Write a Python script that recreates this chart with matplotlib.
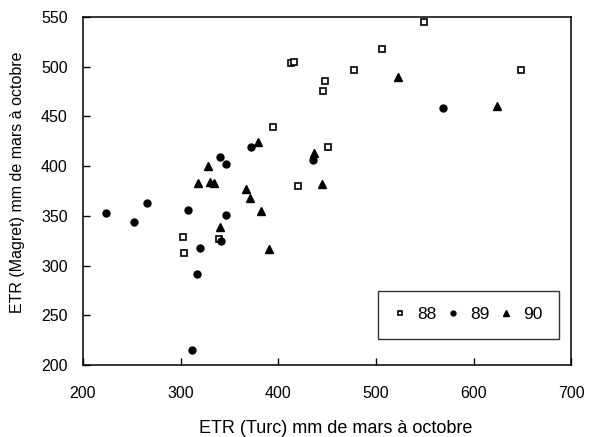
import matplotlib
matplotlib.use("Agg")
import matplotlib.pyplot as plt

plt.rcParams['font.family'] = ['Liberation Sans', 'DejaVu Sans']

# annee 88 (carres ouverts)
x88 = [302.8, 303.5, 339, 394.3, 412.8, 415.8, 420.6, 446.2, 448, 450.7,
       477.7, 506.4, 549.4, 648.8]
y88 = [329, 312.4, 326.8, 439, 503.5, 505.1, 380.4, 476, 486, 419.6,
       496.5, 517.6, 545.1, 496.5]

# annee 89 (ronds pleins)
x89 = [223.6, 252.3, 265.2, 307.9, 311.4, 317.1, 320.2, 340.7, 341.4,
       346.2, 346.5, 371.8, 435.7, 568.5]
y89 = [353.2, 344.2, 362.7, 356.2, 215.4, 291.9, 317.4, 409.5, 324.4,
       351.2, 402.5, 419.3, 406.2, 458.8]

# annee 90 (triangles pleins)
x90 = [318.1, 328, 330.1, 334.2, 340.4, 367.3, 371.1, 379.6, 382.4,
       390.2, 437, 445.2, 522.4, 623.7]
y90 = [382.8, 400.5, 384.4, 382.8, 339.2, 376.5, 368.2, 424, 354.8,
       316.4, 413, 382.1, 490, 460.9]

fig = plt.figure(figsize=(5.92, 4.37), dpi=100)
ax = fig.add_axes([0.140, 0.165, 0.825, 0.796])

ax.plot(x88, y88, 's', ms=4.8, mfc='white', mec='black', mew=1.2, label='88')
ax.plot(x89, y89, 'o', ms=5, color='black', label='89')
ax.plot(x90, y90, '^', ms=5.5, color='black', label='90')

ax.set_xlim(200, 700)
ax.set_ylim(200, 550)
ax.set_xticks(range(200, 701, 100))
ax.set_yticks(range(200, 551, 50))
ax.tick_params(direction='in', length=5, width=1, labelsize=11.5)
ax.tick_params(axis='x', pad=15)
ax.tick_params(axis='y', pad=11)
for s in ax.spines.values():
    s.set_linewidth(1.1)

ax.set_xlabel('ETR (Turc) mm de mars à octobre', fontsize=13)
ax.xaxis.set_label_coords(0.518, -0.158)
ax.set_ylabel('ETR (Magret) mm de mars à octobre', fontsize=11.5)
ax.yaxis.set_label_coords(-0.119, 0.526)

leg = ax.legend(loc='lower right', ncol=3, bbox_to_anchor=(0.975, 0.075),
                frameon=True, fancybox=False, edgecolor='black',
                fontsize=12.5, markerscale=0.7, handlelength=0.6,
                handletextpad=0.7, columnspacing=0.65, borderpad=0.95,
                borderaxespad=0)
leg.get_frame().set_linewidth(1.0)

plt.savefig('out.png', dpi=100)
